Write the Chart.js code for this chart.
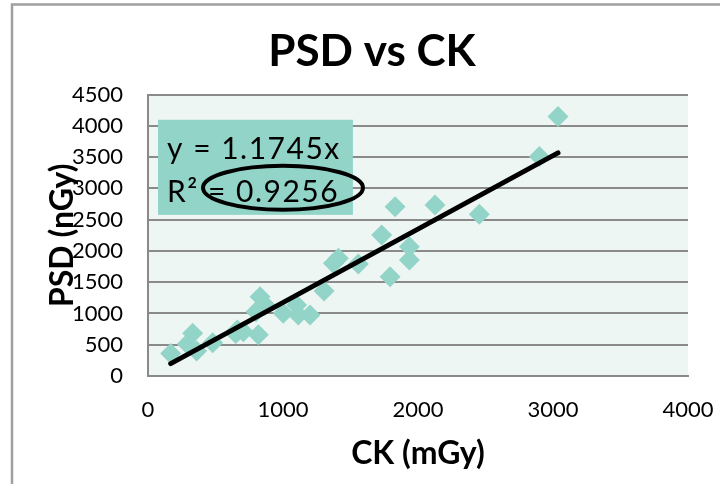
<!DOCTYPE html>
<html>
<head>
<meta charset="utf-8">
<script src="https://cdn.jsdelivr.net/npm/chart.js@4"></script>
<style>
  html, body { margin: 0; padding: 0; background: #ffffff; }
  #wrap { width: 720px; height: 484px; position: relative; }
</style>
</head>
<body>
<div id="wrap"><canvas id="c" width="720" height="484"></canvas></div>
<script>
// ---- data ----
const ckValues  = [168, 331, 291, 360, 479, 662, 706, 650, 817, 830, 867, 800, 1002, 1101, 1113, 1200, 1304, 1373, 1410, 1558, 1731, 1793, 1830, 1936, 1936, 2126, 2454, 2899, 3037];
const psdValues = [360, 683, 512, 400, 533, 736, 709, 680, 660, 1268, 1136, 1029, 1002, 1136, 975, 975, 1359, 1802, 1882, 1791, 2255, 1588, 2707, 2068, 1855, 2734, 2586, 3507, 4147];
const trendSlope = 1.1745;
const equationText = "y = 1.1745x";
const r2Text = "R² = 0.9256";
const chartTitle = "PSD vs CK";
const xTitle = "CK (mGy)";
const yTitle = "PSD (nGy)";
const xTicks = [0, 1000, 2000, 3000, 4000];
const yTicks = [0, 500, 1000, 1500, 2000, 2500, 3000, 3500, 4000, 4500];

const FONT = "Lato, 'Open Sans', sans-serif";
const MINT = "#93d4c8";
const GRID = "#8a8a8a";

const points = ckValues.map((x, i) => ({ x: x, y: psdValues[i] }));
const xMin = Math.min(...ckValues), xMax = Math.max(...ckValues);
const trend = [{ x: xMin, y: trendSlope * xMin }, { x: xMax, y: trendSlope * xMax }];

const framePlugin = {
  id: 'frame',
  beforeDraw(chart) {
    const ctx = chart.ctx, a = chart.chartArea;
    ctx.save();
    ctx.fillStyle = '#eef6f3';
    ctx.fillRect(a.left, a.top, a.right - a.left, a.bottom - a.top);
    ctx.strokeStyle = '#a0a0a0';
    ctx.lineWidth = 2.5;
    ctx.beginPath();
    ctx.moveTo(12, 484); ctx.lineTo(12, 4.5); ctx.lineTo(720, 4.5);
    ctx.stroke();
    // chart title
    ctx.fillStyle = '#000';
    ctx.font = "bold 44px " + FONT;
    ctx.textAlign = 'center';
    ctx.textBaseline = 'middle';
    ctx.fillText(chartTitle, 372, 52);
    ctx.restore();
  }
};

const annotationPlugin = {
  id: 'eqBox',
  afterDatasetsDraw(chart) {
    const ctx = chart.ctx;
    const xs = chart.scales.x, ys = chart.scales.y;
    const left = xs.getPixelForValue(74), right = xs.getPixelForValue(1518);
    const top = ys.getPixelForValue(4096), bottom = ys.getPixelForValue(2576);
    ctx.save();
    ctx.fillStyle = MINT;
    ctx.fillRect(left, top, right - left, bottom - top);
    ctx.fillStyle = '#000';
    ctx.font = "30px " + FONT;
    ctx.textBaseline = 'alphabetic';
    ctx.textAlign = 'left';
    try { ctx.letterSpacing = '1.5px'; } catch (e) {}
    ctx.fillText(equationText, left + 9, top + 39);
    ctx.fillText(r2Text, left + 9, top + 82);
    ctx.strokeStyle = '#000';
    ctx.lineWidth = 4;
    ctx.beginPath();
    ctx.ellipse(left + 125, top + 68, 80, 22, 0, 0, Math.PI * 2);
    ctx.stroke();
    ctx.restore();
  }
};

new Chart(document.getElementById('c'), {
  type: 'scatter',
  data: {
    datasets: [
      {
        label: 'Trend',
        data: trend,
        showLine: true,
        borderColor: '#000',
        borderWidth: 5,
        pointRadius: 0,
        borderCapStyle: 'round',
        order: 0
      },
      {
        label: 'PSD',
        data: points,
        pointStyle: 'rectRot',
        pointRadius: 10.5,
        pointBackgroundColor: MINT,
        pointBorderWidth: 0,
        pointBorderColor: MINT,
        order: 1
      }
    ]
  },
  options: {
    responsive: false,
    animation: false,
    events: [],
    layout: { padding: { left: 0, right: 32, top: 94.5, bottom: 0 } },
    plugins: {
      legend: { display: false },
      tooltip: { enabled: false },
      title: { display: false }
    },
    scales: {
      x: {
        type: 'linear',
        min: 0, max: 4000,
        afterBuildTicks(scale) { scale.ticks = xTicks.map(v => ({ value: v })); },
        afterFit(scale) { scale.height = 108; scale.paddingLeft = 0; scale.paddingRight = 0; },
        grid: { display: false, drawTicks: false },
        border: { display: true, color: GRID, width: 2 },
        ticks: { color: '#000', padding: 21, font: { family: FONT, size: 22 }, maxRotation: 0, callback: v => String(v) },
        title: {
          display: true, text: xTitle, color: '#000',
          font: { family: FONT, size: 32, weight: 'bold' },
          padding: { top: 0, bottom: 11 }
        }
      },
      y: {
        type: 'linear',
        min: 0, max: 4500,
        afterBuildTicks(scale) { scale.ticks = yTicks.map(v => ({ value: v })); },
        afterFit(scale) { scale.width = 148; scale.paddingTop = 0; scale.paddingBottom = 0; },
        grid: { color: GRID, lineWidth: 2, drawTicks: false },
        border: { display: true, color: GRID, width: 2 },
        ticks: { color: '#000', padding: 25, font: { family: FONT, size: 22 }, callback: v => String(v) },
        title: {
          display: true, text: yTitle, color: '#000',
          font: { family: FONT, size: 32, weight: 'bold' },
          padding: { top: 43, bottom: 0 }
        }
      }
    }
  },
  plugins: [framePlugin, annotationPlugin]
});
</script>
</body>
</html>
